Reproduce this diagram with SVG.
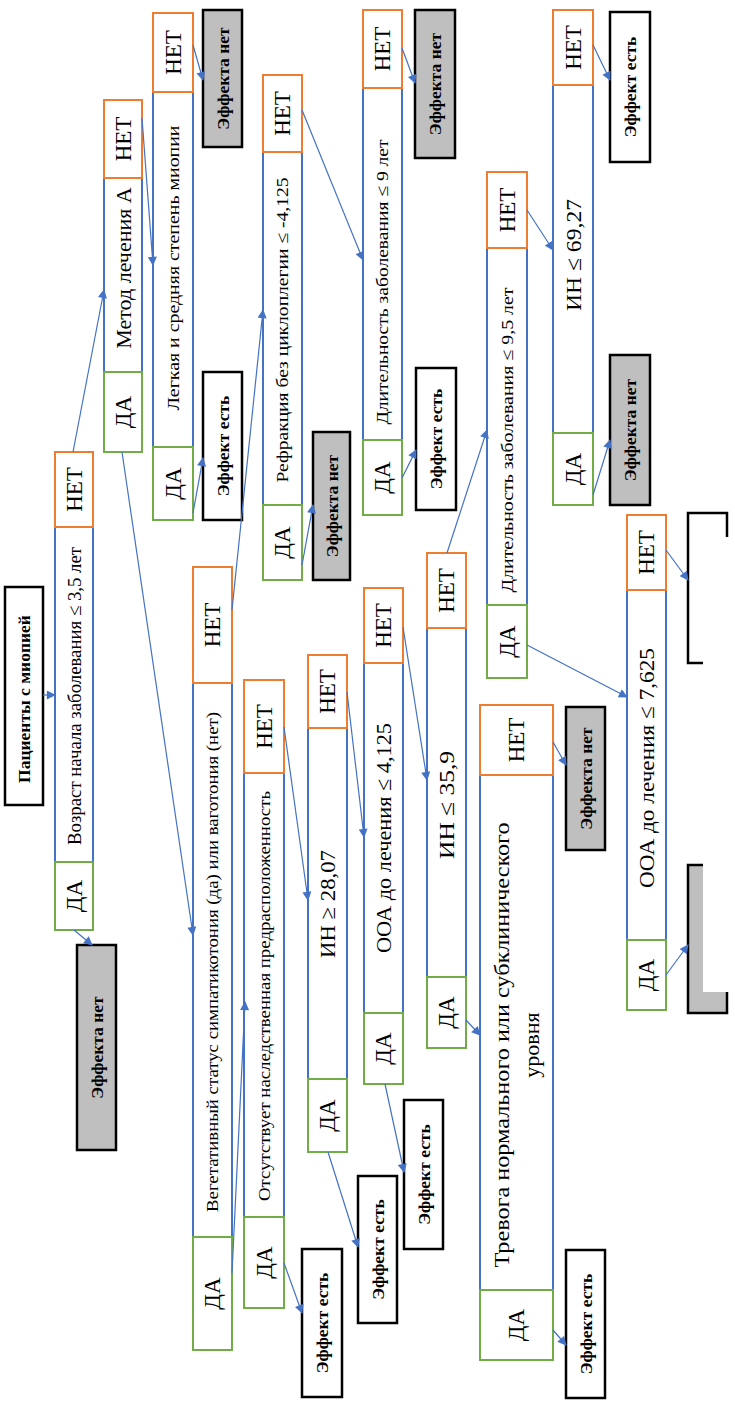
<svg xmlns="http://www.w3.org/2000/svg" width="735" height="1406" viewBox="0 0 735 1406" font-family="'Liberation Serif', 'Times New Roman', serif">
<defs>
<style>
.body{fill:#fff;stroke:#4472C4;stroke-width:2}
.no{fill:#fff;stroke:#ED7D31;stroke-width:2}
.yes{fill:#fff;stroke:#70AD47;stroke-width:2}
.leafw{fill:#fff;stroke:#000;stroke-width:2.5}
.leafg{fill:#BFBFBF;stroke:#000;stroke-width:2.5}
text{font-family:'Liberation Serif','Times New Roman',serif;fill:#000;text-anchor:middle;dominant-baseline:central}
.lbl{font-size:23px}
.big{font-size:22px}
.mid{font-size:19px}
.sm{font-size:17px}
.leaf{font-size:17.5px;font-weight:bold}
.conn line{stroke:#4472C4;stroke-width:1.2;marker-end:url(#ah)}
</style>
<marker id="ah" viewBox="0 0 10 10" refX="9" refY="5" markerWidth="10" markerHeight="9" orient="auto" markerUnits="userSpaceOnUse">
<path d="M0,0 L10,5 L0,10 z" fill="#4472C4"/>
</marker>
</defs>
<rect width="735" height="1406" fill="#fff"/>

<g id="root">
<rect class="leafw" x="5" y="587" width="38" height="218"/>
<text class="leaf" transform="translate(24,699) rotate(-90)">Пациенты с миопией</text>
</g>

<g id="n-vozrast">
<rect class="body" x="55" y="527" width="38" height="335"/>
<rect class="no" x="55" y="452" width="38" height="75"/>
<rect class="yes" x="55" y="862" width="38" height="68"/>
<text class="lbl" transform="translate(74,489.5) rotate(-90)">НЕТ</text>
<text class="lbl" transform="translate(74,896) rotate(-90)">ДА</text>
<text class="mid" transform="translate(74,696) rotate(-90)" textLength="298" lengthAdjust="spacingAndGlyphs">Возраст начала заболевания ≤ 3,5 лет</text>
</g>

<g id="n-metod">
<rect class="body" x="104" y="178" width="38" height="194"/>
<rect class="no" x="104" y="100" width="38" height="78"/>
<rect class="yes" x="104" y="372" width="38" height="80"/>
<text class="lbl" transform="translate(123,139) rotate(-90)">НЕТ</text>
<text class="lbl" transform="translate(123,412) rotate(-90)">ДА</text>
<text class="big" transform="translate(123,268) rotate(-90)">Метод лечения А</text>
</g>

<g id="n-legkaya">
<rect class="body" x="153" y="92" width="40" height="355"/>
<rect class="no" x="153" y="13" width="40" height="79"/>
<rect class="yes" x="153" y="447" width="40" height="73"/>
<text class="lbl" transform="translate(173,52.5) rotate(-90)">НЕТ</text>
<text class="lbl" transform="translate(173,483.5) rotate(-90)">ДА</text>
<text class="sm" transform="translate(173,268) rotate(-90)" textLength="285" lengthAdjust="spacingAndGlyphs">Легкая и средняя степень миопии</text>
</g>

<g id="n-vegetat">
<rect class="body" x="193" y="683" width="39" height="554"/>
<rect class="no" x="193" y="567" width="39" height="116"/>
<rect class="yes" x="193" y="1237" width="39" height="113"/>
<text class="lbl" transform="translate(212.5,625) rotate(-90)">НЕТ</text>
<text class="lbl" transform="translate(212.5,1293.5) rotate(-90)">ДА</text>
<text class="sm" transform="translate(212.5,962) rotate(-90)" textLength="500" lengthAdjust="spacingAndGlyphs">Вегетативный статус симпатикотония (да) или ваготония (нет)</text>
</g>

<g id="n-otsutstv">
<rect class="body" x="244" y="773" width="40" height="444"/>
<rect class="no" x="244" y="680" width="40" height="93"/>
<rect class="yes" x="244" y="1217" width="40" height="91"/>
<text class="lbl" transform="translate(264,726.5) rotate(-90)">НЕТ</text>
<text class="lbl" transform="translate(264,1262.5) rotate(-90)">ДА</text>
<text class="sm" transform="translate(264,996) rotate(-90)" textLength="410" lengthAdjust="spacingAndGlyphs">Отсутствует наследственная предрасположенность</text>
</g>

<g id="n-refr">
<rect class="body" x="263" y="152" width="39" height="353"/>
<rect class="no" x="263" y="75" width="39" height="77"/>
<rect class="yes" x="263" y="505" width="39" height="75"/>
<text class="lbl" transform="translate(282.5,113.5) rotate(-90)">НЕТ</text>
<text class="lbl" transform="translate(282.5,542.5) rotate(-90)">ДА</text>
<text class="sm" transform="translate(282.5,330) rotate(-90)" textLength="305" lengthAdjust="spacingAndGlyphs">Рефракция без циклоплегии ≤ -4,125</text>
</g>

<g id="n-dlit9">
<rect class="body" x="363" y="88" width="39" height="352"/>
<rect class="no" x="363" y="10" width="39" height="78"/>
<rect class="yes" x="363" y="440" width="39" height="75"/>
<text class="lbl" transform="translate(382.5,49) rotate(-90)">НЕТ</text>
<text class="lbl" transform="translate(382.5,477.5) rotate(-90)">ДА</text>
<text class="sm" transform="translate(382.5,282) rotate(-90)" textLength="285" lengthAdjust="spacingAndGlyphs">Длительность заболевания ≤ 9 лет</text>
</g>

<g id="n-in28">
<rect class="body" x="308" y="728" width="39" height="351"/>
<rect class="no" x="308" y="655" width="39" height="73"/>
<rect class="yes" x="308" y="1079" width="39" height="73"/>
<text class="lbl" transform="translate(327.5,691.5) rotate(-90)">НЕТ</text>
<text class="lbl" transform="translate(327.5,1115.5) rotate(-90)">ДА</text>
<text class="big" transform="translate(327.5,904) rotate(-90)" textLength="108" lengthAdjust="spacingAndGlyphs">ИН ≥ 28,07</text>
</g>

<g id="n-ooa4">
<rect class="body" x="364" y="663" width="39" height="350"/>
<rect class="no" x="364" y="588" width="39" height="75"/>
<rect class="yes" x="364" y="1013" width="39" height="71"/>
<text class="lbl" transform="translate(383.5,625.5) rotate(-90)">НЕТ</text>
<text class="lbl" transform="translate(383.5,1048.5) rotate(-90)">ДА</text>
<text class="big" transform="translate(383.5,838) rotate(-90)" textLength="230" lengthAdjust="spacingAndGlyphs">ООА до лечения ≤ 4,125</text>
</g>

<g id="n-in35">
<rect class="body" x="427" y="628" width="39" height="349"/>
<rect class="no" x="427" y="553" width="39" height="75"/>
<rect class="yes" x="427" y="977" width="39" height="71"/>
<text class="lbl" transform="translate(446.5,590.5) rotate(-90)">НЕТ</text>
<text class="lbl" transform="translate(446.5,1012.5) rotate(-90)">ДА</text>
<text class="big" transform="translate(446.5,805) rotate(-90)" textLength="108" lengthAdjust="spacingAndGlyphs">ИН ≤ 35,9</text>
</g>

<g id="n-trevoga">
<rect class="body" x="480" y="775" width="73" height="515"/>
<rect class="no" x="480" y="705" width="73" height="70"/>
<rect class="yes" x="480" y="1290" width="73" height="70"/>
<text class="lbl" transform="translate(516.5,740) rotate(-90)">НЕТ</text>
<text class="lbl" transform="translate(516.5,1325) rotate(-90)">ДА</text>
<text class="big" transform="translate(501,1045) rotate(-90)" textLength="445" lengthAdjust="spacingAndGlyphs">Тревога нормального или субклинического</text>
<text class="big" transform="translate(531,1045) rotate(-90)">уровня</text>
</g>

<g id="n-dlit95">
<rect class="body" x="487" y="248" width="40" height="357"/>
<rect class="no" x="487" y="172" width="40" height="76"/>
<rect class="yes" x="487" y="605" width="40" height="73"/>
<text class="lbl" transform="translate(507,210) rotate(-90)">НЕТ</text>
<text class="lbl" transform="translate(507,641.5) rotate(-90)">ДА</text>
<text class="sm" transform="translate(507,440) rotate(-90)" textLength="305" lengthAdjust="spacingAndGlyphs">Длительность заболевания ≤ 9,5 лет</text>
</g>

<g id="n-in69">
<rect class="body" x="553" y="85" width="40" height="348"/>
<rect class="no" x="553" y="10" width="40" height="75"/>
<rect class="yes" x="553" y="433" width="40" height="72"/>
<text class="lbl" transform="translate(573,47.5) rotate(-90)">НЕТ</text>
<text class="lbl" transform="translate(573,469) rotate(-90)">ДА</text>
<text class="big" transform="translate(573,255) rotate(-90)" textLength="112" lengthAdjust="spacingAndGlyphs">ИН ≤ 69,27</text>
</g>

<g id="n-ooa7">
<rect class="body" x="627" y="590" width="39" height="350"/>
<rect class="no" x="627" y="515" width="39" height="75"/>
<rect class="yes" x="627" y="940" width="39" height="70"/>
<text class="lbl" transform="translate(646.5,552.5) rotate(-90)">НЕТ</text>
<text class="lbl" transform="translate(646.5,975) rotate(-90)">ДА</text>
<text class="big" transform="translate(646.5,768) rotate(-90)" textLength="240" lengthAdjust="spacingAndGlyphs">ООА до лечения ≤ 7,625</text>
</g>

<g id="leaf1">
<rect class="leafg" x="77" y="945" width="39" height="205"/>
<text class="leaf" transform="translate(96.5,1047.5) rotate(-90)">Эффекта нет</text>
</g>
<g id="leaf2">
<rect class="leafg" x="203" y="10" width="39" height="137"/>
<text class="leaf" transform="translate(222.5,78.5) rotate(-90)">Эффекта нет</text>
</g>
<g id="leaf3">
<rect class="leafw" x="203" y="372" width="39" height="148"/>
<text class="leaf" transform="translate(222.5,446) rotate(-90)">Эффект есть</text>
</g>
<g id="leaf4">
<rect class="leafg" x="313" y="432" width="37" height="148"/>
<text class="leaf" transform="translate(331.5,506) rotate(-90)">Эффекта нет</text>
</g>
<g id="leaf5">
<rect class="leafg" x="415" y="10" width="40" height="148"/>
<text class="leaf" transform="translate(435,84) rotate(-90)">Эффекта нет</text>
</g>
<g id="leaf6">
<rect class="leafw" x="416" y="368" width="40" height="142"/>
<text class="leaf" transform="translate(436,439) rotate(-90)">Эффект есть</text>
</g>
<g id="leaf7">
<rect class="leafw" x="302" y="1249" width="40" height="148"/>
<text class="leaf" transform="translate(322,1323) rotate(-90)">Эффект есть</text>
</g>
<g id="leaf8">
<rect class="leafw" x="358" y="1176" width="39" height="147"/>
<text class="leaf" transform="translate(377.5,1249.5) rotate(-90)">Эффект есть</text>
</g>
<g id="leaf9">
<rect class="leafw" x="404" y="1100" width="39" height="149"/>
<text class="leaf" transform="translate(423.5,1174.5) rotate(-90)">Эффект есть</text>
</g>
<g id="leaf10">
<rect class="leafg" x="566" y="707" width="39" height="143"/>
<text class="leaf" transform="translate(585.5,778.5) rotate(-90)">Эффекта нет</text>
</g>
<g id="leaf11">
<rect class="leafw" x="566" y="1250" width="39" height="148"/>
<text class="leaf" transform="translate(585.5,1324) rotate(-90)">Эффект есть</text>
</g>
<g id="leaf12">
<rect class="leafw" x="610" y="12" width="40" height="150"/>
<text class="leaf" transform="translate(630,87) rotate(-90)">Эффект есть</text>
</g>
<g id="leaf13">
<rect class="leafg" x="610" y="355" width="40" height="150"/>
<text class="leaf" transform="translate(630,430) rotate(-90)">Эффекта нет</text>
</g>
<g id="leaf14">
<path d="M703,663 H688 V513 H727 V537" fill="none" stroke="#000" stroke-width="2.5"/>
</g>
<g id="leaf15">
<path d="M688,865 H703 V992 H727 V1013 H688 Z" fill="#BFBFBF" stroke="none"/>
<path d="M703,865 H688 V1013 H727 V992" fill="none" stroke="#000" stroke-width="2.5"/>
</g>

<g id="connectors" class="conn">
<line x1="43" y1="695" x2="55" y2="695"/>
<line x1="74" y1="930" x2="92" y2="945"/>
<line x1="73" y1="452" x2="104" y2="290"/>
<line x1="122" y1="452" x2="193" y2="935"/>
<line x1="142" y1="118" x2="153" y2="265"/>
<line x1="193" y1="45" x2="203" y2="80"/>
<line x1="193" y1="513" x2="203" y2="458"/>
<line x1="232" y1="610" x2="263" y2="310"/>
<line x1="232" y1="1273" x2="245" y2="1002"/>
<line x1="302" y1="565" x2="313" y2="505"/>
<line x1="302" y1="110" x2="363" y2="260"/>
<line x1="402" y1="48" x2="415" y2="83"/>
<line x1="402" y1="478" x2="416" y2="450"/>
<line x1="284" y1="727" x2="308" y2="900"/>
<line x1="284" y1="1263" x2="302" y2="1313"/>
<line x1="347" y1="692" x2="364" y2="837"/>
<line x1="328" y1="1152" x2="358" y2="1247"/>
<line x1="403" y1="627" x2="427" y2="780"/>
<line x1="385" y1="1084" x2="404" y2="1172"/>
<line x1="447" y1="553" x2="487" y2="430"/>
<line x1="466" y1="1020" x2="480" y2="1035"/>
<line x1="553" y1="742" x2="566" y2="765"/>
<line x1="553" y1="1330" x2="566" y2="1345"/>
<line x1="527" y1="645" x2="627" y2="697"/>
<line x1="527" y1="210" x2="553" y2="250"/>
<line x1="593" y1="45" x2="610" y2="80"/>
<line x1="593" y1="495" x2="610" y2="440"/>
<line x1="666" y1="550" x2="688" y2="580"/>
<line x1="666" y1="975" x2="688" y2="945"/>
</g>
</svg>
